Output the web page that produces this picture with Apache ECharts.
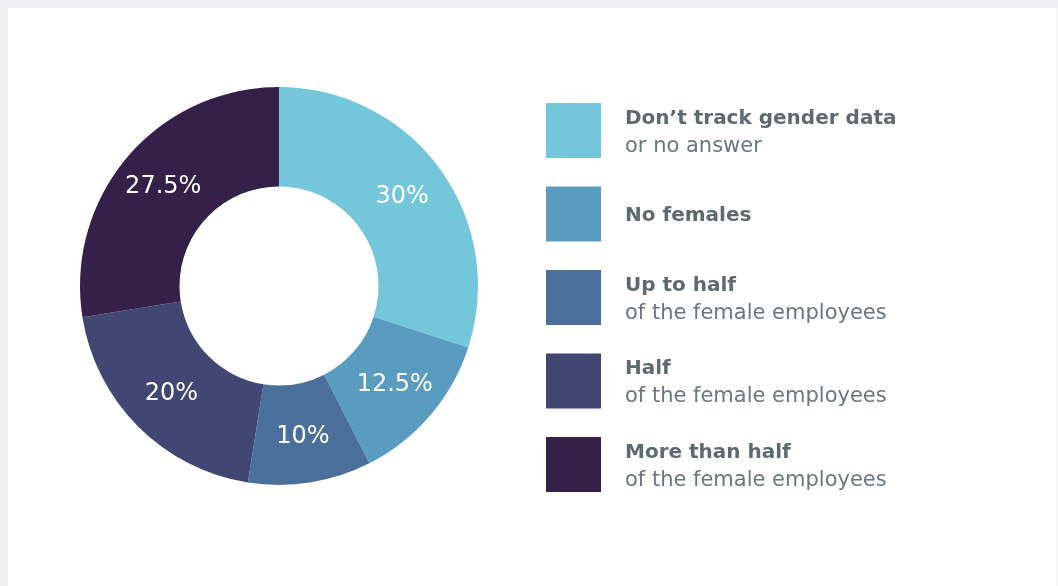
<!DOCTYPE html>
<html>
<head>
<meta charset="utf-8">
<script src="https://cdn.jsdelivr.net/npm/echarts@6/dist/echarts.min.js"></script>
<style>
  html, body { margin: 0; padding: 0; background: #efeff1; }
  #chart { position: absolute; left: 8px; top: 8px; width: 1049px; height: 578px; background: #fff; }
</style>
</head>
<body>
<div id="chart"></div>
<script>
// shares of respondents, clockwise from 12 o'clock
const titles = [
  "Don\u2019t track gender data",
  "No females",
  "Up to half",
  "Half",
  "More than half",
];
const subtitles = [
  "or no answer",
  "",
  "of the female employees",
  "of the female employees",
  "of the female employees",
];
const shares = [30, 12.5, 10, 20, 27.5];
const colors = ["#74c7db", "#5a9cc0", "#4a6f9a", "#414673", "#35204a"];

const chart = echarts.init(document.getElementById("chart"));

chart.setOption({
  animation: false,
  color: colors,
  legend: {
    orient: "vertical",
    left: 538,
    top: 95,
    padding: 0,
    itemWidth: 55,
    itemHeight: 55,
    itemGap: 28.5,
    icon: "rect",
    selectedMode: false,
    data: titles,
    formatter: (name) => {
      const sub = subtitles[titles.indexOf(name)];
      return sub ? `{t|${name}}\n{s|${sub}}` : `{t|${name}}`;
    },
    textStyle: {
      rich: {
        t: {
          fontFamily: "DejaVu Sans",
          fontWeight: "bold",
          fontSize: 20,
          lineHeight: 32,
          color: "#5e6a72",
          padding: [3, 0, 0, 19],
        },
        s: {
          fontFamily: "DejaVu Sans",
          fontSize: 21,
          lineHeight: 27,
          color: "#6b767e",
          padding: [0, 0, 0, 19],
        },
      },
    },
  },
  series: [
    {
      type: "pie",
      center: [271, 278],
      radius: [99.5, 199],
      startAngle: 90,
      clockwise: true,
      avoidLabelOverlap: false,
      label: {
        show: true,
        position: "inside",
        formatter: (p) => p.value + "%",
        color: "#fff",
        fontFamily: "DejaVu Sans",
        fontSize: 24,
      },
      labelLine: { show: false },
      emphasis: { disabled: true },
      data: titles.map((name, i) => ({ name, value: shares[i] })),
    },
  ],
});
</script>
</body>
</html>
